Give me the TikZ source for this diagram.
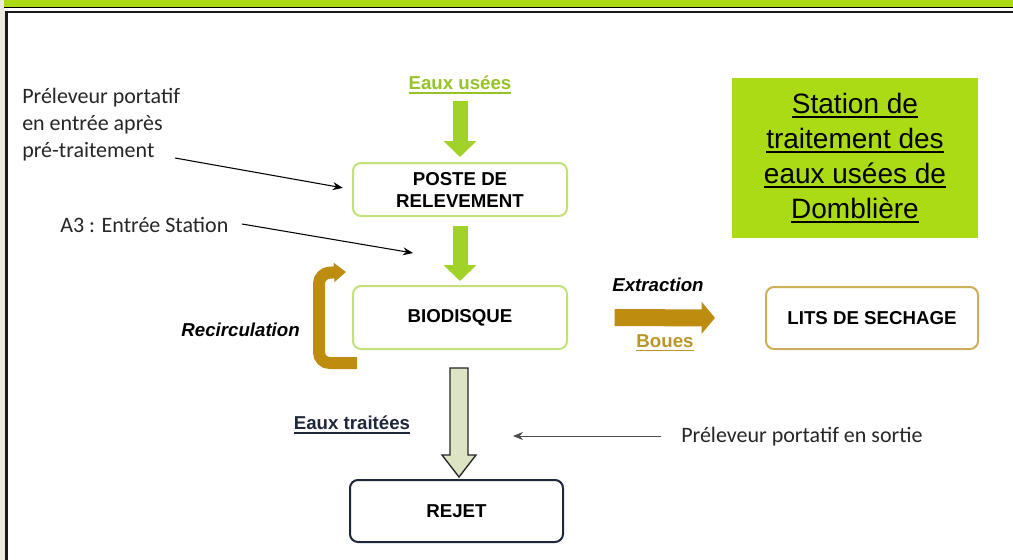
\documentclass[tikz,border=0pt]{standalone}
\usepackage{fontspec}
\usetikzlibrary{arrows.meta,calc}
\newfontfamily\arialf{Liberation Sans}
\newfontfamily\calibrif{Carlito}
\definecolor{barGreen}{RGB}{170,219,20}
\definecolor{beigeL}{RGB}{236,233,222}
\definecolor{boxGreen}{RGB}{195,225,120}
\definecolor{arrGreen}{RGB}{160,210,40}
\definecolor{txtGreen}{RGB}{150,195,40}
\definecolor{brownA}{RGB}{190,140,15}
\definecolor{brownT}{RGB}{185,150,40}
\definecolor{litsBorder}{RGB}{205,175,90}
\definecolor{navyD}{RGB}{30,40,60}
\definecolor{hollowF}{RGB}{220,228,195}
\newcommand\ulx[1]{\leavevmode\setbox0=\hbox{#1}\vtop{\hbox{\copy0}\kern1.6pt\hrule height 1.1pt width \wd0}}
\begin{document}
\begin{tikzpicture}[x=0.75pt,y=-0.75pt,
  procbox/.style={rounded corners=6pt, line width=1.5pt, fill=white, align=center, inner sep=0pt,
    font=\arialf\bfseries\fontsize{14}{16.5}\selectfont},
  arialb/.style={font=\arialf\bfseries\fontsize{14}{16.5}\selectfont, inner sep=0pt},
  arialbi/.style={font=\arialf\bfseries\itshape\fontsize{14}{16.5}\selectfont, inner sep=0pt},
  calib/.style={font=\calibrif\fontsize{16.5}{20.25}\selectfont, inner sep=0pt, text=black!85},
  thinarrow/.style={line width=0.8pt, -{Stealth[length=7.5pt,width=6pt]}},
  greenarrow/.style={draw=arrGreen, line width=11.25pt, -{Triangle[width=24pt,length=12pt]}},
]
\useasboundingbox (0,0) rectangle (1013,560);
\fill[white] (0,0) rectangle (1013,560);
\fill[beigeL] (0,0) rectangle (5,560);
\fill[barGreen] (4,0) rectangle (1013,7);
\draw[line width=0.8pt] (4,7.5) -- (1013,7.5);
\draw[line width=1.8pt, black!90] (6.5,560) -- (6.5,12) -- (1013,12);

% title box
\node[fill=barGreen, minimum width=184.5pt, minimum height=120pt, inner sep=0pt, align=center,
  font=\arialf\fontsize{21}{26.25}\selectfont] (title) at (855,158)
  {\ulx{Station de}\\\ulx{traitement des}\\\ulx{eaux usées de}\\\ulx{Domblière}};

% process boxes
\node[procbox, draw=boxGreen, minimum width=160.5pt, minimum height=39.75pt] (poste) at (460,189.5) {POSTE DE\\RELEVEMENT};
\node[procbox, draw=boxGreen, minimum width=160.5pt, minimum height=47.25pt] (bio) at (460,317.5) {BIODISQUE};
\node[procbox, draw=litsBorder, minimum width=159pt, minimum height=46.5pt] (lits) at (872,318) {LITS DE SECHAGE};
\node[procbox, draw=navyD, minimum width=159.75pt, minimum height=46.5pt] (rejet) at (456.5,511) {REJET};

% labels
\node[arialb, text=txtGreen] (eu) at (460,85) {\ulx{Eaux usées}};
\node[arialbi] (extr) at (658,285) {Extraction};
\node[arialb, text=brownT] (boues) at (665,343) {\ulx{Boues}};
\node[arialbi, anchor=east] (recirc) at (300,330) {Recirculation};
\node[arialb, text=navyD] (et) at (352,425) {\ulx{Eaux traitées}};

\node[calib, anchor=west, align=left] (prel) at (22,125) {Préleveur portatif\\en entrée après\\pré-traitement};
\node[calib, anchor=west] (a3) at (60,225) {A3 : Entrée Station};
\node[calib, anchor=west] (sortie) at (681,437) {Préleveur portatif en sortie};

% green arrows
\draw[greenarrow, shorten <=5pt, shorten >=3.75pt] (eu.south) -- (poste.north);
\draw[greenarrow, shorten <=6.75pt, shorten >=3pt] (poste.south) -- (bio.north);

% hollow arrow
\draw[fill=hollowF, draw=black!85, line width=1pt, line join=miter]
  (450,368) -- (468,368) -- (468,455) -- (476,455) -- (459,477) -- (442,455) -- (450,455) -- cycle;

% extraction arrow
\draw[draw=brownA, line width=12.75pt, -{Triangle[width=23.5pt,length=10pt]}, shorten <=35pt, shorten >=37.5pt]
  (bio.east) -- (lits.west);

% recirculation arrow
\coordinate (rc1) at (357,363);
\coordinate (rc2) at (319,363);
\coordinate (rc3) at (319,273);
\coordinate (rc4) at (346,272);
\draw[draw=brownA, line width=9pt, rounded corners=8pt, -{Triangle[width=14pt,length=9pt]}]
  (rc1) -- (rc2) -- (rc3) -- (rc4);

% thin pointer arrows
\coordinate (p1) at (175,158);
\draw[thinarrow, shorten >=7pt] (p1) -- (poste.west);
\coordinate (a3s) at (242,224);
\coordinate (a3e) at (413,253);
\draw[thinarrow] (a3s) -- (a3e);
\coordinate (se) at (513,436);
\draw[thinarrow, black!70, line width=0.6pt, shorten <=15pt] (sortie.west |- se) -- (se);
\end{tikzpicture}
\end{document}
